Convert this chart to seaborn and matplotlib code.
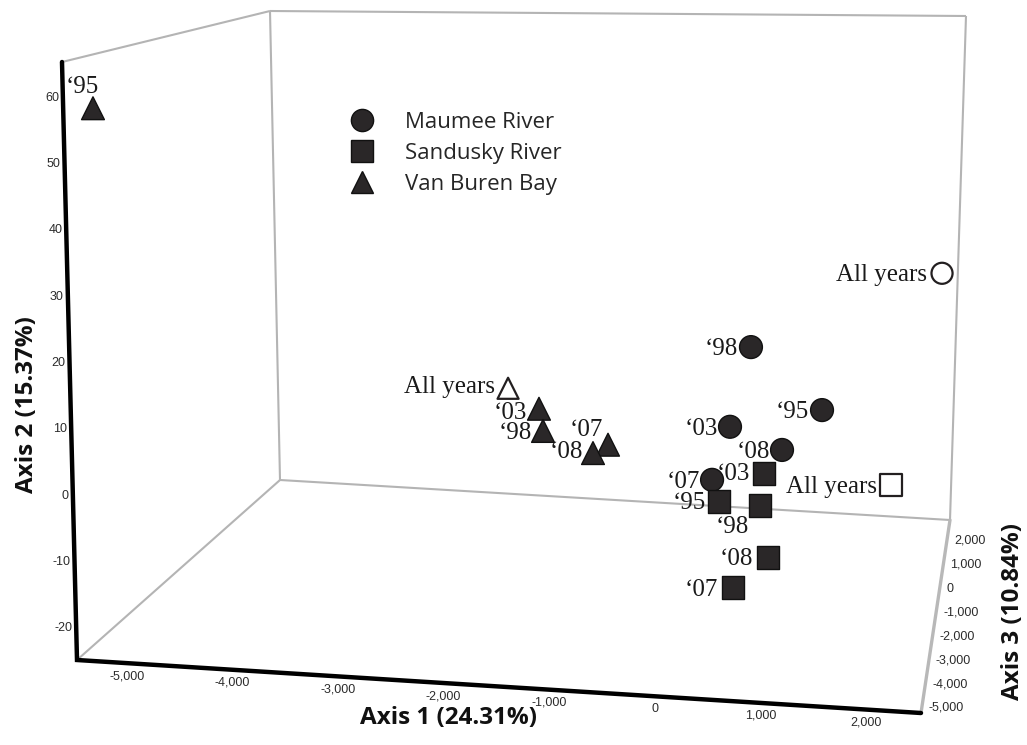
import matplotlib
matplotlib.use("Agg")
import matplotlib.pyplot as plt
from matplotlib.lines import Line2D
import numpy as np
import pandas as pd
import seaborn as sns

# ---------------- data (front-plane reading) ----------------
sites = ["Maumee River", "Sandusky River", "Van Buren Bay"]

maumee_labels = ["\u201898", "\u201895", "\u201803", "\u201808", "\u201807", "All years"]
maumee_axis1 = [843, 1514, 663, 1151, 505, 2587]
maumee_axis2 = [25.9, 17.3, 14.4, 11.4, 6.7, 37.2]

sandusky_labels = ["\u201803", "All years", "\u201895", "\u201898", "\u201808", "\u201807"]
sandusky_axis1 = [988, 2174, 574, 957, 1042, 720]
sandusky_axis2 = [7.9, 7.1, 3.7, 3.3, -4.0, -8.6]

vanburen_labels = ["\u201895", "All years", "\u201803", "\u201898", "\u201807", "\u201808"]
vanburen_axis1 = [-5198, -1402, -1114, -1075, -469, -608]
vanburen_axis2 = [58.5, 18.7, 15.9, 12.7, 11.1, 9.8]

axis1_ticks = [-5000, -4000, -3000, -2000, -1000, 0, 1000, 2000]
axis2_ticks = [-20, -10, 0, 10, 20, 30, 40, 50, 60]
axis3_ticks = [-5000, -4000, -3000, -2000, -1000, 0, 1000, 2000]

axis1_title = "Axis 1 (24.31%)"
axis2_title = "Axis 2 (15.37%)"
axis3_title = "Axis 3 (10.84%)"

# ---------------- 3-D box projection (layout) ----------------
A1_LIM = (-5470, 2520)
A2_LIM = (-24.8, 65.4)
A3_LIM = (-5210, 2880)
CORNERS = {
    (0, 0, 0): (77, 660), (1, 0, 0): (921, 713),
    (0, 1, 0): (62, 62), (1, 1, 0): (941, 73),
    (0, 0, 1): (280, 480), (1, 0, 1): (950, 520),
    (0, 1, 1): (270, 11), (1, 1, 1): (966, 16),
}


def project(a1, a2, a3):
    u = (np.asarray(a1, float) - A1_LIM[0]) / (A1_LIM[1] - A1_LIM[0])
    v = (np.asarray(a2, float) - A2_LIM[0]) / (A2_LIM[1] - A2_LIM[0])
    w = (np.asarray(a3, float) - A3_LIM[0]) / (A3_LIM[1] - A3_LIM[0])
    x = 0.0
    y = 0.0
    for (i, j, k), (cx, cy) in CORNERS.items():
        wt = (u if i else 1 - u) * (v if j else 1 - v) * (w if k else 1 - w)
        x = x + wt * cx
        y = y + wt * cy
    return x, y


rows = []
for site, labs, a1s, a2s in [
    ("Maumee River", maumee_labels, maumee_axis1, maumee_axis2),
    ("Sandusky River", sandusky_labels, sandusky_axis1, sandusky_axis2),
    ("Van Buren Bay", vanburen_labels, vanburen_axis1, vanburen_axis2),
]:
    for lab, a1, a2 in zip(labs, a1s, a2s):
        rows.append({"site": site, "label": lab, "axis1": a1, "axis2": a2})
df = pd.DataFrame(rows)
sx, sy = project(df["axis1"], df["axis2"], A3_LIM[0])
df["sx"] = sx
df["sy"] = sy
df["pooled"] = df["label"] == "All years"

# label placement (dx, dy in image pixels, dy>0 = down; ha)
LABEL_POS = {
    ("Maumee River", "\u201898"): (-13, 0, "right"),
    ("Maumee River", "\u201895"): (-13, 0, "right"),
    ("Maumee River", "\u201803"): (-12, 0, "right"),
    ("Maumee River", "\u201808"): (-12, 0, "right"),
    ("Maumee River", "\u201807"): (-12, 0, "right"),
    ("Maumee River", "All years"): (-15, 0, "right"),
    ("Sandusky River", "\u201803"): (-14, -2, "right"),
    ("Sandusky River", "All years"): (-14, 0, "right"),
    ("Sandusky River", "\u201895"): (-13, 0, "right"),
    ("Sandusky River", "\u201898"): (-28, 19, "center"),
    ("Sandusky River", "\u201808"): (-15, 0, "right"),
    ("Sandusky River", "\u201807"): (-15, 0, "right"),
    ("Van Buren Bay", "\u201895"): (-11, -23, "center"),
    ("Van Buren Bay", "All years"): (-13, -3, "right"),
    ("Van Buren Bay", "\u201803"): (-12, 2, "right"),
    ("Van Buren Bay", "\u201898"): (-11, 0, "right"),
    ("Van Buren Bay", "\u201807"): (-22, -17, "center"),
    ("Van Buren Bay", "\u201808"): (-10, -3, "right"),
}

# ---------------- figure ----------------
sns.set_style("white")
plt.rcParams["font.family"] = ["Liberation Sans", "DejaVu Sans"]

W, H = 1027, 745
fig = plt.figure(figsize=(W / 100, H / 100), dpi=100)
ax = fig.add_axes([0, 0, 1, 1])

GRAY = "#b4b4b4"
INK = "#231f20"

edges_gray = [((0, 0, 0), (0, 0, 1)), ((0, 0, 1), (1, 0, 1)), ((0, 0, 1), (0, 1, 1)),
              ((0, 1, 0), (0, 1, 1)), ((0, 1, 1), (1, 1, 1)), ((1, 1, 1), (1, 0, 1))]
lims = [A1_LIM, A2_LIM, A3_LIM]


def corner_val(c):
    return [lims[d][c[d]] for d in range(3)]


for c0, c1 in edges_gray:
    p0 = project(*corner_val(c0))
    p1 = project(*corner_val(c1))
    ax.plot([p0[0], p1[0]], [p0[1], p1[1]], color=GRAY, lw=1.5, solid_capstyle="butt", zorder=1)
# axis 3 (floor right edge)
p0 = project(*corner_val((1, 0, 0)))
p1 = project(*corner_val((1, 0, 1)))
ax.plot([p0[0], p1[0]], [p0[1], p1[1]], color="#b8b8b8", lw=2.4, zorder=1)
# axis 2 and axis 1 (black)
pA = project(*corner_val((0, 1, 0)))
pB = project(*corner_val((0, 0, 0)))
pC = project(*corner_val((1, 0, 0)))
ax.plot([pA[0], pB[0], pC[0]], [pA[1], pB[1], pC[1]], color="black", lw=3.2,
        solid_joinstyle="miter", zorder=2)

# ---------------- points ----------------
markers = {"Maumee River": "o", "Sandusky River": "s", "Van Buren Bay": "^"}
sns.scatterplot(data=df[~df["pooled"]], x="sx", y="sy", style="site", markers=markers,
                style_order=sites, color="#2a2728", edgecolor="#111111", linewidth=1.0,
                s=270, legend=False, ax=ax, zorder=3)
sns.scatterplot(data=df[df["pooled"]], x="sx", y="sy", style="site", markers=markers,
                style_order=sites, color="white", edgecolor=INK, linewidth=1.6,
                s=230, legend=False, ax=ax, zorder=3)

for _, r in df.iterrows():
    dx, dy, ha = LABEL_POS[(r["site"], r["label"])]
    ax.text(r["sx"] + dx, r["sy"] + dy + 8, r["label"], ha=ha, va="baseline",
            fontsize=18, family=["Liberation Serif", "DejaVu Serif"], color="#1a1a1a", zorder=4)

# ---------------- tick labels ----------------
TICK_FS = 9
TICK_C = "#2b2b2b"
for t in axis1_ticks:
    x, y = project(t, A2_LIM[0], A3_LIM[0])
    ax.text(x, y + 13, f"{t:,}", ha="center", va="center", fontsize=TICK_FS, color=TICK_C)
for t in axis2_ticks:
    x, y = project(A1_LIM[0], t, A3_LIM[0])
    ax.text(x - 4, y, f"{t}", ha="right", va="center", fontsize=TICK_FS, color=TICK_C)
for t in axis3_ticks:
    x, y = project(A1_LIM[1], A2_LIM[0], t)
    ax.text(x + 7, y, f"{t:,}", ha="left", va="center", fontsize=TICK_FS, color=TICK_C)

TITLE_KW = dict(fontsize=17.5, fontweight="bold", family=["Open Sans", "DejaVu Sans"], color="#111111")
ax.text(448, 718, axis1_title, ha="center", va="center", **TITLE_KW)
ax.text(27, 405, axis2_title, ha="center", va="center", rotation=90, **TITLE_KW)
ax.text(1013, 611, axis3_title, ha="center", va="center", rotation=90, **TITLE_KW)

# ---------------- legend ----------------
handles = [Line2D([], [], marker=markers[s], linestyle="", markersize=16,
                  markerfacecolor="#2a2728", markeredgecolor="#111111") for s in sites]
leg = ax.legend(handles, sites, loc="upper left", bbox_to_anchor=(351 / W, 1 - 112 / H),
                frameon=False, borderpad=0, borderaxespad=0, handlelength=1.0,
                handletextpad=1.43, labelspacing=0.45,
                prop={"family": "Open Sans", "size": 16})

ax.set_xlim(0, W)
ax.set_ylim(H, 0)
ax.axis("off")
fig.savefig("out.png", dpi=100)
